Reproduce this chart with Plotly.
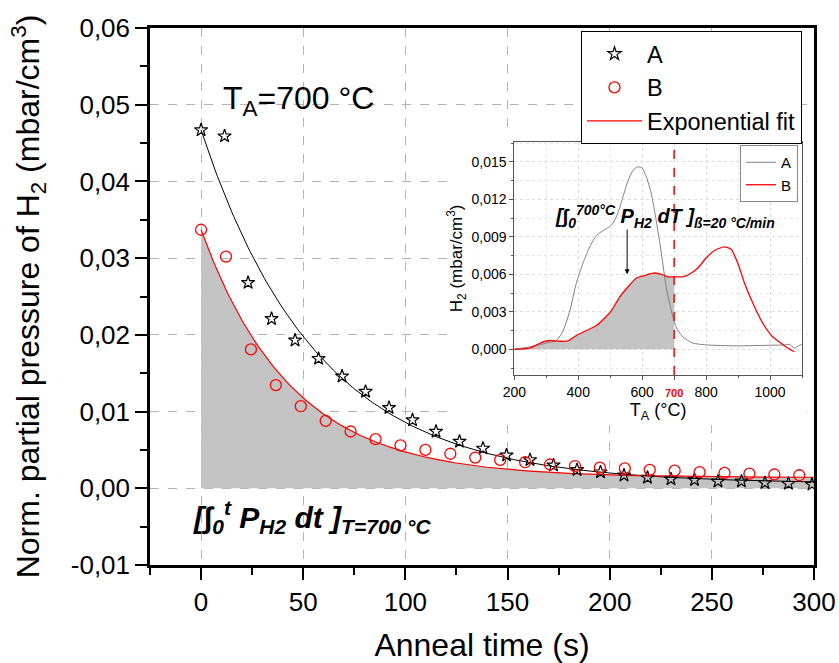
import numpy as np
import plotly.graph_objects as go

# ---------------- main panel: isothermal anneal at 700 °C ----------------
time_A = [0, 11.5, 23, 34.5, 46, 57.5, 69, 80.5, 92, 103.5, 115, 126.5, 138, 149.5,
          161, 172.5, 184, 195.5, 207, 218.5, 230, 241.5, 253, 264.5, 276, 287.5, 299]
pressure_A = [0.0467, 0.0459, 0.0268, 0.0221, 0.0193, 0.0169, 0.0146, 0.0126, 0.0105,
              0.0089, 0.0074, 0.0061, 0.0052, 0.0043, 0.0037, 0.0030, 0.0024, 0.0021,
              0.0017, 0.0014, 0.0012, 0.0011, 0.0009, 0.0009, 0.0007, 0.0006, 0.0005]

time_B = [0, 12.2, 24.4, 36.6, 48.8, 61, 73.2, 85.4, 97.6, 109.8, 122, 134.2, 146.4,
          158.6, 170.8, 183, 195.2, 207.4, 219.6, 231.8, 244, 256.2, 268.4, 280.6, 292.8]
pressure_B = [0.0337, 0.0302, 0.0181, 0.01345, 0.0107, 0.0088, 0.0074, 0.0064, 0.0056,
              0.0050, 0.0045, 0.0040, 0.0037, 0.0034, 0.0031, 0.0029, 0.0027, 0.0026,
              0.0024, 0.0023, 0.0021, 0.0020, 0.0019, 0.0018, 0.0017]

# exponential fit parameters  y = y0 + A * exp(-t / tau)
fit_A = dict(y0=0.0006, A=0.0461, tau=57.0)
fit_B = dict(y0=0.0014, A=0.0323, tau=44.0)

x_tickvals = [0, 50, 100, 150, 200, 250, 300]
x_ticktext = ["0", "50", "100", "150", "200", "250", "300"]
y_tickvals = [-0.01, 0.0, 0.01, 0.02, 0.03, 0.04, 0.05, 0.06]
y_ticktext = ["-0,01", "0,00", "0,01", "0,02", "0,03", "0,04", "0,05", "0,06"]

# ---------------- inset: TDS spectra ----------------
tds_T_A = [200, 249, 301, 332, 353, 374, 394, 415, 436, 457, 478, 498, 509, 524, 540,
           556, 571, 587, 600, 613, 628, 644, 660, 675, 691, 706, 727, 758, 800, 894,
           998, 1050, 1060, 1076, 1091, 1099]
tds_H2_A = [0, 0.0002, 0.0005, 0.0007, 0.0015, 0.0031, 0.0053, 0.0069, 0.0082, 0.0091,
            0.0095, 0.0098, 0.0101, 0.0109, 0.0122, 0.0135, 0.0143, 0.0146, 0.0145,
            0.0138, 0.0125, 0.0103, 0.0077, 0.0050, 0.0031, 0.0018, 0.0010, 0.0005,
            0.00035, 0.00027, 0.00032, 0.00035, 0.0004, 0.0001, 0.0003, 0.0004]

tds_T_B = [200, 249, 270, 290, 311, 342, 368, 394, 426, 457, 483, 504, 530, 556, 582,
           608, 634, 660, 680, 700, 727, 748, 774, 800, 826, 857, 878, 899, 920, 946,
           977, 1008, 1034, 1055, 1076]
tds_H2_B = [0, 0.0001, 0.00035, 0.0006, 0.0007, 0.00064, 0.00067, 0.0011, 0.0015,
            0.0019, 0.0025, 0.0031, 0.0042, 0.0050, 0.0057, 0.0059, 0.0061, 0.0060,
            0.0058, 0.0058, 0.0058, 0.0060, 0.0065, 0.0073, 0.0079, 0.0082, 0.0080,
            0.0069, 0.0053, 0.0037, 0.0021, 0.0010, 0.0005, 0.0001, -0.0002]
anneal_T = 700

inset_x_tickvals = [200, 400, 600, 700, 800, 1000]
inset_x_ticktext = ["200", "400", "600",
                    "<span style='color:red;font-size:11px'><b>700</b></span>",
                    "800", "1000"]
inset_y_tickvals = [0.0, 0.003, 0.006, 0.009, 0.012, 0.015]
inset_y_ticktext = ["0,000", "0,003", "0,006", "0,009", "0,012", "0,015"]

FONT = "Liberation Sans, Arial, sans-serif"
GRAY_FILL = "#c3c3c3"

t_fit = np.linspace(0, 300, 301)


def exp_fit(p, t):
    return p["y0"] + p["A"] * np.exp(-t / p["tau"])


fig = go.Figure()

# integral of the fitted curve B (shaded)
fig.add_trace(go.Scatter(x=t_fit, y=exp_fit(fit_B, t_fit), mode="lines",
                         line=dict(width=0, color=GRAY_FILL), fill="tozeroy",
                         fillcolor=GRAY_FILL, showlegend=False, hoverinfo="skip"))
fig.add_trace(go.Scatter(x=t_fit, y=exp_fit(fit_A, t_fit), mode="lines",
                         line=dict(color="black", width=1), showlegend=False))
fig.add_trace(go.Scatter(x=t_fit, y=exp_fit(fit_B, t_fit), mode="lines",
                         line=dict(color="red", width=1.2), name="Exponential fit",
                         legendrank=3))
fig.add_trace(go.Scatter(x=time_A, y=pressure_A, mode="markers", name="A",
                         marker=dict(symbol="star-open", size=10, color="black",
                                     line=dict(width=1.2, color="black")),
                         legendrank=1))
fig.add_trace(go.Scatter(x=time_B, y=pressure_B, mode="markers", name="B",
                         marker=dict(symbol="circle-open", size=11, color="red",
                                     line=dict(width=1.3, color="red")),
                         legendrank=2))

# blank white panel behind the inset (covers main grid)
fig.add_trace(go.Scatter(x=[None], y=[None], xaxis="x2", yaxis="y2",
                         showlegend=False, hoverinfo="skip"))

# inset traces
fill_T = [t for t in tds_T_B if t <= anneal_T]
fill_H = [h for t, h in zip(tds_T_B, tds_H2_B) if t <= anneal_T]
fig.add_trace(go.Scatter(x=fill_T, y=fill_H, xaxis="x3", yaxis="y3", mode="lines",
                         line=dict(width=0, color=GRAY_FILL, shape="spline", smoothing=0.6),
                         fill="tozeroy", fillcolor=GRAY_FILL, showlegend=False,
                         hoverinfo="skip"))
fig.add_trace(go.Scatter(x=tds_T_A, y=tds_H2_A, xaxis="x3", yaxis="y3", mode="lines",
                         line=dict(color="#808080", width=1, shape="spline", smoothing=0.6),
                         name="A", legend="legend2"))
fig.add_trace(go.Scatter(x=tds_T_B, y=tds_H2_B, xaxis="x3", yaxis="y3", mode="lines",
                         line=dict(color="red", width=1.3, shape="spline", smoothing=0.6),
                         name="B", legend="legend2"))

# geometry of the main plot area (pixels -> paper fractions)
PX_L, PX_R, PX_T, PX_B = 150, 814, 28, 565
W, H = 839, 663


def px_x(p):
    return (p - PX_L) / (PX_R - PX_L)


def px_y(p):
    return (PX_B - p) / (PX_B - PX_T)


main_axis = dict(showline=True, linewidth=2.5, linecolor="black", mirror=True,
                 ticks="outside", ticklen=12, tickwidth=2, tickcolor="black",
                 showgrid=True, gridcolor="#b4b4b4", griddash="dash", gridwidth=1,
                 zeroline=False, automargin=False,
                 tickfont=dict(size=26, color="black"))

inset_axis = dict(showline=True, linewidth=1, linecolor="#555555", mirror=True,
                  ticks="outside", ticklen=4, tickwidth=1, tickcolor="#555555",
                  showgrid=True, gridcolor="#dcdcdc", griddash="dot", gridwidth=1,
                  zeroline=False, automargin=False,
                  tickfont=dict(size=14, color="black"))

fig.update_layout(
    width=W, height=H,
    margin=dict(l=PX_L, r=W - PX_R, t=PX_T, b=H - PX_B, autoexpand=False),
    paper_bgcolor="white", plot_bgcolor="white",
    font=dict(family=FONT, color="black"),
    separators=",.",
    xaxis=dict(main_axis, range=[-25, 300], tickmode="array",
               tickvals=x_tickvals, ticktext=x_ticktext,
               minor=dict(tickmode="linear", tick0=0, dtick=25, ticklen=7,
                          ticks="outside", tickcolor="black", showgrid=False),
               title=dict(text="Anneal time (s)", font=dict(size=32), standoff=20)),
    yaxis=dict(main_axis, range=[-0.01, 0.06], tickmode="array",
               tickvals=y_tickvals, ticktext=y_ticktext,
               minor=dict(tickmode="linear", tick0=0, dtick=0.005, ticklen=7,
                          ticks="outside", tickcolor="black", showgrid=False),
               title=dict(text="Norm. partial pressure of H<sub>2</sub> (mbar/cm<sup>3</sup>)",
                          font=dict(size=32), standoff=22)),
    xaxis2=dict(domain=[px_x(448), px_x(806)], anchor="y2", visible=False, range=[0, 1]),
    yaxis2=dict(domain=[px_y(425), px_y(133)], anchor="x2", visible=False, range=[0, 1]),
    xaxis3=dict(inset_axis, domain=[px_x(514.3), px_x(802)], anchor="y3",
                range=[200, 1100], tickmode="array",
                tickvals=inset_x_tickvals, ticktext=inset_x_ticktext,
                minor=dict(tickmode="linear", tick0=200, dtick=100, ticklen=2,
                           ticks="outside", showgrid=True, gridcolor="#e6e6e6",
                           griddash="dot"),
                title=dict(text="T<sub>A</sub> (°C)", font=dict(size=18), standoff=4)),
    yaxis3=dict(inset_axis, domain=[px_y(375), px_y(141.7)], anchor="x3",
                range=[-0.00206, 0.01661], tickmode="array",
                tickvals=inset_y_tickvals, ticktext=inset_y_ticktext,
                minor=dict(tickmode="linear", tick0=0, dtick=0.0015, ticklen=2,
                           ticks="outside", showgrid=True, gridcolor="#e6e6e6",
                           griddash="dot"),
                title=dict(text="H<sub>2</sub> (mbar/cm<sup>3</sup>)",
                           font=dict(size=17), standoff=4)),
    legend=dict(x=px_x(581), y=px_y(31), xanchor="left", yanchor="top",
                bgcolor="white", bordercolor="black", borderwidth=1,
                font=dict(size=23.5), itemwidth=55, tracegroupgap=0),
    legend2=dict(x=px_x(740), y=px_y(145), xanchor="left", yanchor="top",
                 bgcolor="white", bordercolor="#888888", borderwidth=1,
                 font=dict(size=15), itemwidth=30, tracegroupgap=0),
    showlegend=True,
)

fig.add_shape(type="line", xref="x3", yref="y3 domain", x0=anneal_T, x1=anneal_T,
              y0=0, y1=1, line=dict(color="red", width=1.5, dash="dash"))

fig.add_annotation(x=47.5, y=0.0506, xref="x", yref="y", showarrow=False,
                   text="T<sub>A</sub>=700 °C", font=dict(size=32, color="black"))
fig.add_annotation(x=54.5, y=-0.0038, xref="x", yref="y", showarrow=False,
                   text="<b><i>[∫<sub>0</sub><sup>t</sup> P<sub>H2</sub> dt ]"
                        "<sub>T=700 °C</sub></i></b>",
                   font=dict(size=30, color="black"))
fig.add_annotation(x=670, y=0.0106, xref="x3", yref="y3", showarrow=False,
                   text="<b><i>[∫<sub>0</sub><sup>700°C</sup> P<sub>H2</sub> dT ]"
                        "<sub>ß=20 °C/min</sub></i></b>",
                   font=dict(size=20, color="black"))
fig.add_annotation(x=553, y=0.0060, ax=553, ay=0.0097, xref="x3", yref="y3",
                   axref="x3", ayref="y3", showarrow=True, arrowhead=2,
                   arrowsize=1, arrowwidth=1, arrowcolor="black", text="")

fig.write_html("out.html")
